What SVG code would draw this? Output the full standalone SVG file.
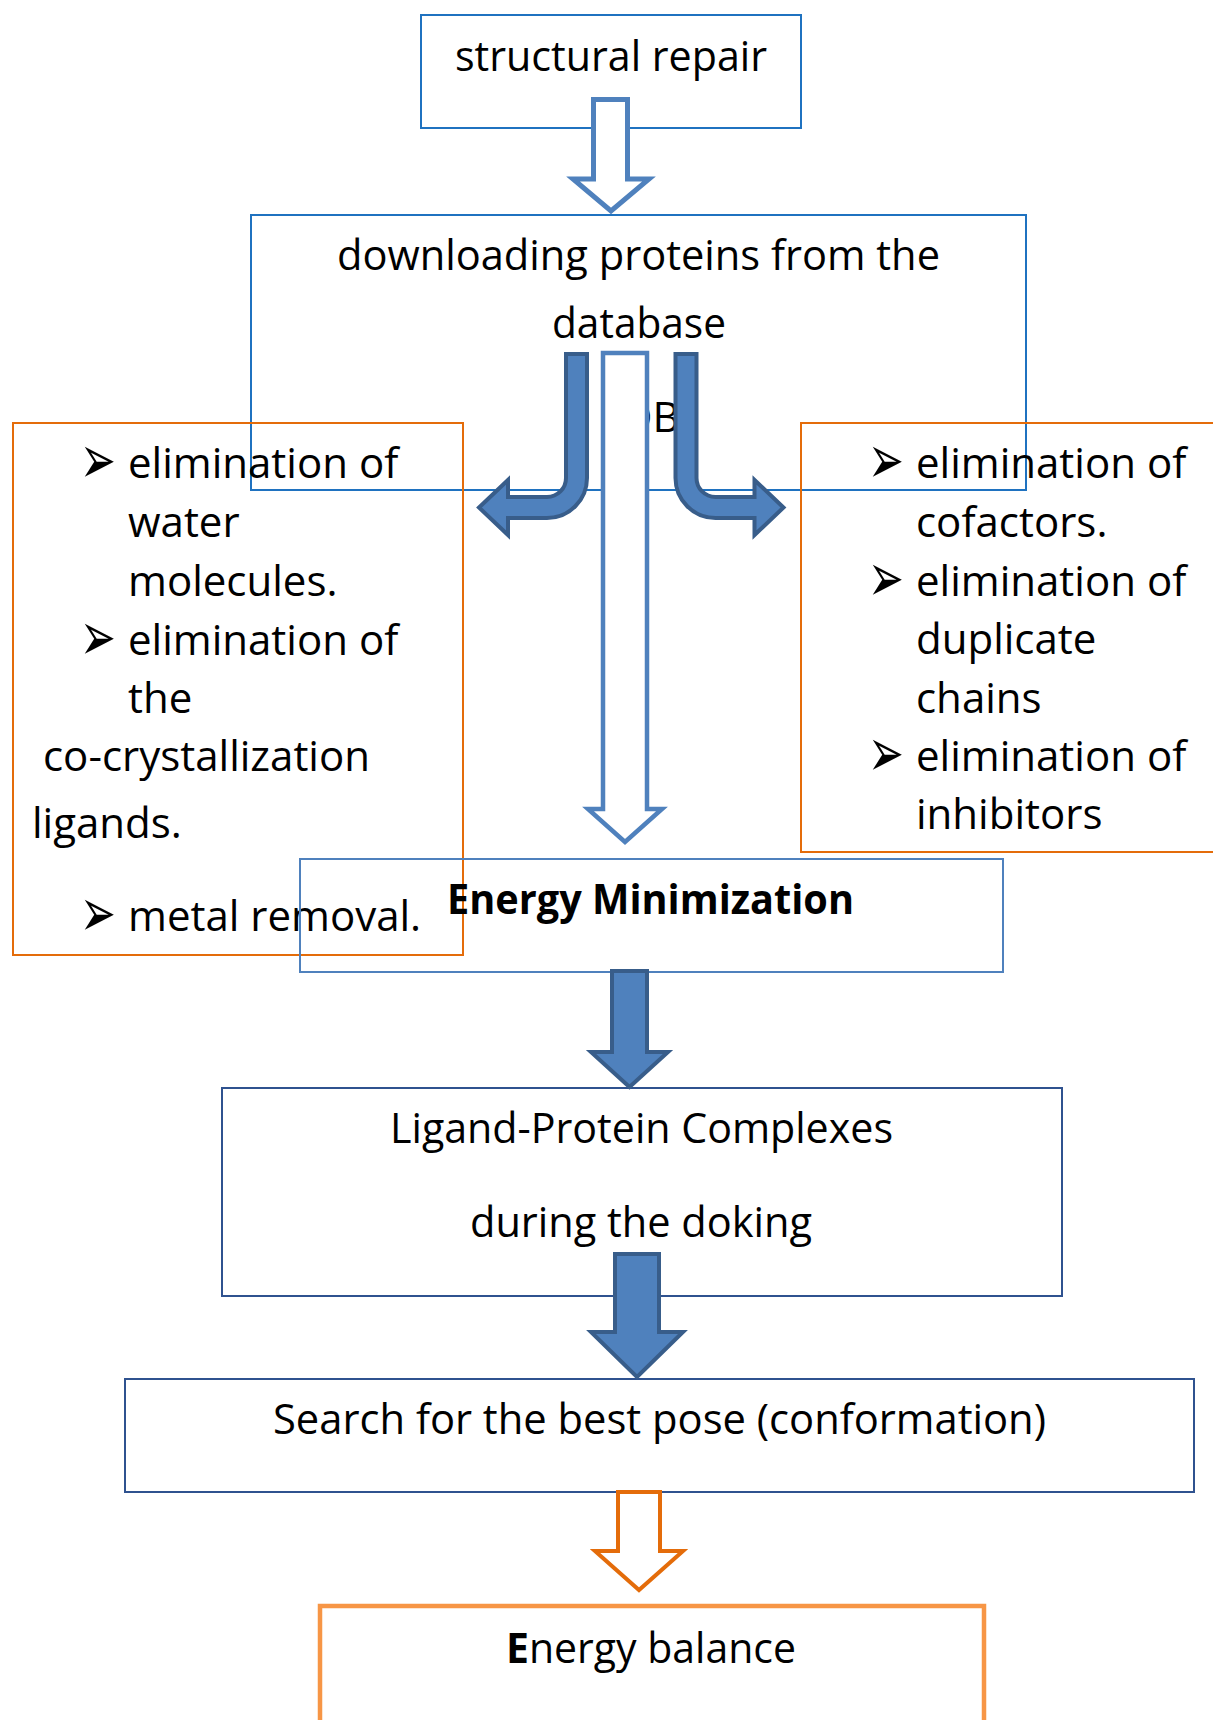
<svg xmlns="http://www.w3.org/2000/svg" width="1213" height="1720" viewBox="0 0 1213 1720">
<style>
text{font-family:"Open Sans","Noto Sans","Liberation Sans",sans-serif;font-size:42px;fill:#000}
.bul{font-family:"DejaVu Sans",sans-serif;font-size:58px}
.box{fill:none}
.b1{stroke:#1F72C0;stroke-width:2}
.b2{stroke:#4F81BD;stroke-width:2}
.b3{stroke:#2F528F;stroke-width:2}
.o1{stroke:#E46C0A;stroke-width:2}
.o2{stroke:#F79646;stroke-width:4.5}
.hollow{fill:#fff;stroke:#4F81BD;stroke-width:4.5;stroke-linejoin:miter}
.solid{fill:#4F81BD;stroke:#385D8A;stroke-width:4;stroke-linejoin:miter}
.ohollow{fill:#fff;stroke:#E46C0A;stroke-width:4;stroke-linejoin:miter}
</style>
<rect width="1213" height="1720" fill="#fff"/>
<g id="n-structural-repair">
<rect class="box b1" x="421" y="15" width="380" height="113"/>
<text x="455" y="71" textLength="312" lengthAdjust="spacingAndGlyphs">structural repair</text>
</g>
<g id="n-download">
<rect class="box b1" x="251" y="215" width="775" height="275"/>
<text x="337" y="270" textLength="603" lengthAdjust="spacingAndGlyphs">downloading proteins from the</text>
<text x="552" y="338" textLength="174" lengthAdjust="spacingAndGlyphs">database</text>
<text x="622" y="432">DB</text>
</g>
<g id="n-left-list">
<rect class="box o1" x="13" y="423" width="450" height="532"/>
<text class="bul" transform="translate(80,483) scale(0.74,1.17)">➢</text>
<text x="128" y="478">elimination of</text>
<text x="128" y="537">water</text>
<text x="128" y="596">molecules.</text>
<text class="bul" transform="translate(80,660) scale(0.74,1.17)">➢</text>
<text x="128" y="655">elimination of</text>
<text x="128" y="713">the</text>
<text x="43" y="771">co-crystallization</text>
<text x="32" y="838">ligands.</text>
<text class="bul" transform="translate(80,936) scale(0.74,1.17)">➢</text>
<text x="128" y="931">metal removal.</text>
</g>
<g id="n-right-list">
<rect class="box o1" x="801" y="423" width="440" height="429"/>
<text class="bul" transform="translate(868,483) scale(0.74,1.17)">➢</text>
<text x="916" y="478">elimination of</text>
<text x="916" y="537">cofactors.</text>
<text class="bul" transform="translate(868,601) scale(0.74,1.17)">➢</text>
<text x="916" y="596">elimination of</text>
<text x="916" y="654">duplicate</text>
<text x="916" y="713">chains</text>
<text class="bul" transform="translate(868,776) scale(0.74,1.17)">➢</text>
<text x="916" y="771">elimination of</text>
<text x="916" y="829">inhibitors</text>
</g>
<g id="n-energy-min">
<rect class="box b2" x="300" y="859" width="703" height="113"/>
<text x="447" y="914" font-weight="bold" textLength="407" lengthAdjust="spacingAndGlyphs">Energy Minimization</text>
</g>
<g id="n-ligand">
<rect class="box b3" x="222" y="1088" width="840" height="208"/>
<text x="390" y="1143" textLength="503" lengthAdjust="spacingAndGlyphs">Ligand-Protein Complexes</text>
<text x="470" y="1237" textLength="342" lengthAdjust="spacingAndGlyphs">during the doking</text>
</g>
<g id="n-search">
<rect class="box b3" x="125" y="1379" width="1069" height="113"/>
<text x="273" y="1434" textLength="773" lengthAdjust="spacingAndGlyphs">Search for the best pose (conformation)</text>
</g>
<g id="n-energy-balance">
<rect class="box o2" x="320" y="1606" width="664" height="150"/>
<text x="506" y="1663" textLength="290" lengthAdjust="spacingAndGlyphs"><tspan font-weight="bold">E</tspan>nergy balance</text>
</g>
<g id="connectors">
<path class="hollow" style="stroke-width:5" d="M593.5,99.5 H627.5 V179 H649 L611,211 L573,179 H593.5 Z"/>
<path class="hollow" d="M603,353 H647 V809 H662 L625,842 L588,809 H603 Z"/>
<path class="solid" d="M566,354 H587 V478 A40,40 0 0 1 547,518 H508 V535 L479,507.5 L508,480 V497 H547 A19,19 0 0 0 566,478 Z"/>
<path class="solid" transform="matrix(-1 0 0 1 1262.5 0)" d="M566,354 H587 V478 A40,40 0 0 1 547,518 H508 V535 L479,507.5 L508,480 V497 H547 A19,19 0 0 0 566,478 Z"/>
<path class="solid" d="M612,971 H647 V1052 H668 L629.5,1087 L591,1052 H612 Z"/>
<path class="solid" d="M615,1254 H659 V1332 H683 L637,1377 L591,1332 H615 Z"/>
<path class="ohollow" d="M618,1492 H660 V1551 H683 L639,1590 L595,1551 H618 Z"/>
</g>
</svg>
